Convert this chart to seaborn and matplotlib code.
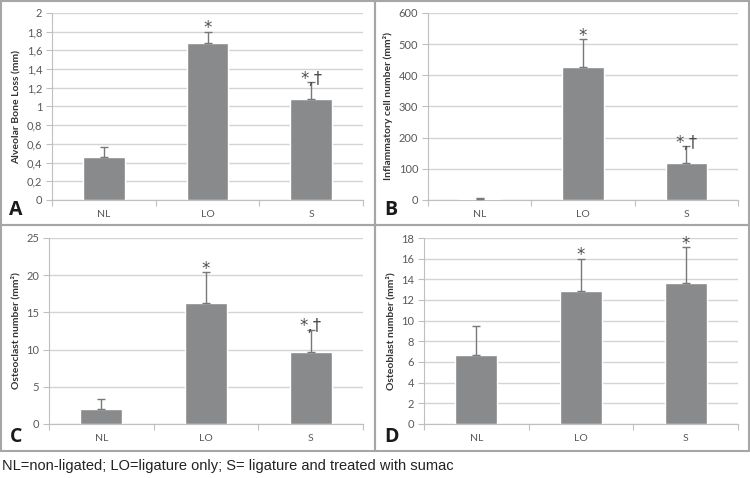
import numpy as np
import pandas as pd
import matplotlib
matplotlib.use('Agg')
import matplotlib.pyplot as plt
from matplotlib.patches import Rectangle
from matplotlib.ticker import FuncFormatter, FixedLocator
import seaborn as sns

GROUPS = ['NL', 'LO', 'S']

bone_loss = [0.46, 1.68, 1.08]
bone_loss_err = [0.11, 0.12, 0.18]

inflam = [3, 428, 120]
inflam_err = [2, 87, 53]

osteoclast = [2.0, 16.3, 9.7]
osteoclast_err = [1.3, 4.1, 3.0]

osteoblast = [6.7, 12.9, 13.6]
osteoblast_err = [2.8, 3.1, 3.5]

marks_a = ['', '*', '*,†']
marks_b = ['', '*', '*,†']
marks_c = ['', '*', '*,†']
marks_d = ['', '*', '*']

CAPTION = 'NL=non-ligated; LO=ligature only; S= ligature and treated with sumac'

BAR_COLOR = '#898a8c'
ERR_COLOR = '#77787a'
GRID_COLOR = '#d4d4d4'
TEXT_COLOR = '#595959'

sns.set_theme(style='white')
plt.rcParams['font.family'] = ['Lato', 'DejaVu Sans']

fig = plt.figure(figsize=(7.5, 4.78), dpi=100)
W, H = 750, 478


def px_axes(left, top, right, bottom):
    return fig.add_axes([left / W, 1 - bottom / H, (right - left) / W, (bottom - top) / H])


def draw_panel(ax, values, errs, marks, ymax, ystep, ylabel, comma=False):
    df = pd.DataFrame({'group': GROUPS, 'value': values})
    sns.barplot(data=df, x='group', y='value', color=BAR_COLOR, width=0.4,
                saturation=1, ax=ax, zorder=3)
    x = np.arange(len(GROUPS))
    ax.errorbar(x, values, yerr=[np.zeros(len(errs)), errs], fmt='none',
                ecolor=ERR_COLOR, elinewidth=1.0, capsize=3, capthick=1.0, zorder=4)
    for xi, v, e, m in zip(x, values, errs, marks):
        if m:
            ax.annotate(m, (xi, v + e), xytext=(0, -4), textcoords='offset points',
                        ha='center', va='bottom', fontsize=12, color='#4d4d4d',
                        family=['DejaVu Sans'], zorder=5, annotation_clip=False)
    ax.set_xlim(-0.5, 2.5)
    ax.set_ylim(0, ymax)
    ax.set_yticks(np.arange(0, ymax + ystep / 2, ystep))
    if comma:
        ax.yaxis.set_major_formatter(FuncFormatter(
            lambda v, p: ('%g' % round(v, 1)).replace('.', ',')))
    ax.yaxis.grid(True, color=GRID_COLOR, linewidth=1, zorder=0)
    ax.set_axisbelow(True)
    ax.xaxis.set_minor_locator(FixedLocator([-0.5, 0.5, 1.5, 2.5]))
    ax.tick_params(axis='x', which='major', length=0, labelsize=7.5,
                   colors=TEXT_COLOR, pad=7)
    ax.tick_params(axis='x', which='minor', length=4, color='#bfbfbf', width=0.8,
                   bottom=True)
    ax.tick_params(axis='y', length=4, color='#bfbfbf', width=0.8, labelsize=8,
                   colors=TEXT_COLOR, pad=3, left=True)
    for s in ['top', 'right']:
        ax.spines[s].set_visible(False)
    for s in ['left', 'bottom']:
        ax.spines[s].set_color('#bfbfbf')
        ax.spines[s].set_linewidth(0.8)
    ax.set_xlabel('')
    ax.set_ylabel(ylabel, fontsize=7.5, fontweight='bold', color='#333333', labelpad=4)


ax_a = px_axes(52, 13, 363, 200)
ax_b = px_axes(428, 13, 738, 200)
ax_c = px_axes(49, 238, 363, 424)
ax_d = px_axes(424, 238, 738, 424)

draw_panel(ax_a, bone_loss, bone_loss_err, marks_a, 2, 0.2,
           'Alveolar Bone Loss (mm)', comma=True)
draw_panel(ax_b, inflam, inflam_err, marks_b, 600, 100,
           'Inflammatory cell number (mm²)')
draw_panel(ax_c, osteoclast, osteoclast_err, marks_c, 25, 5,
           'Osteoclast number (mm²)')
draw_panel(ax_d, osteoblast, osteoblast_err, marks_d, 18, 2,
           'Osteoblast number (mm²)')

# panel frames
for (l, t, r, b) in [(1, 1, 375, 225), (375, 1, 749, 225),
                     (1, 225, 375, 451), (375, 225, 749, 451)]:
    fig.patches.append(Rectangle((l / W, 1 - b / H), (r - l) / W, (b - t) / H,
                                 transform=fig.transFigure, fill=False,
                                 edgecolor='#a6a6a6', linewidth=1.5))

for letter, (px, py) in zip('ABCD', [(16, 210), (391, 210), (16, 437), (391, 437)]):
    fig.text(px / W, 1 - py / H, letter, fontsize=14, fontweight='bold',
             ha='center', va='center', color='#1a1a1a',
             family=['Open Sans', 'DejaVu Sans'])

fig.text(2 / W, 1 - 466 / H, CAPTION, fontsize=10.5, ha='left', va='center',
         color='#222222', family=['Liberation Sans', 'DejaVu Sans'])

fig.savefig('out.png', dpi=100)
